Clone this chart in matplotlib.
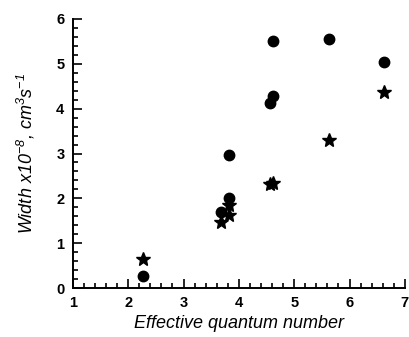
import matplotlib
matplotlib.use("Agg")
import matplotlib.pyplot as plt
from matplotlib.ticker import MultipleLocator

# circles
circle_x = [2.27, 3.67, 3.82, 3.82, 4.57, 4.62, 4.62, 5.63, 6.63]
circle_y = [0.28, 1.70, 2.01, 2.97, 4.12, 4.29, 5.50, 5.56, 5.05]
# stars
star_x = [2.27, 3.67, 3.82, 3.82, 4.57, 4.62, 5.63, 6.63]
star_y = [0.65, 1.48, 1.64, 1.85, 2.32, 2.35, 3.30, 4.37]

plt.rcParams["font.family"] = ["Liberation Sans", "DejaVu Sans"]
plt.rcParams["mathtext.fontset"] = "custom"
plt.rcParams["mathtext.it"] = "Liberation Sans:italic"
plt.rcParams["mathtext.rm"] = "Liberation Sans:italic"
plt.rcParams["mathtext.default"] = "it"

fig = plt.figure(figsize=(4.09, 3.37), dpi=100)
ax = fig.add_axes([0.178, 0.145, 0.812, 0.799])

ax.plot(circle_x, circle_y, "o", color="black", markersize=7.5, clip_on=False, zorder=3)
ax.plot(star_x, star_y, "*", color="black", markersize=10.5, clip_on=False, zorder=3)

ax.set_xlim(1, 7)
ax.set_ylim(0, 6)
ax.xaxis.set_major_locator(MultipleLocator(1))
ax.xaxis.set_minor_locator(MultipleLocator(0.2))
ax.yaxis.set_major_locator(MultipleLocator(1))
ax.yaxis.set_minor_locator(MultipleLocator(0.2))
ax.tick_params(which="both", direction="in", width=1.2, labelsize=10.5, pad=6)
ax.tick_params(which="major", length=6.5)
ax.tick_params(which="minor", length=3.5)
for lab in ax.get_xticklabels() + ax.get_yticklabels():
    lab.set_fontweight("bold")
for side in ["top", "right"]:
    ax.spines[side].set_visible(False)
for side in ["left", "bottom"]:
    ax.spines[side].set_linewidth(1.4)

ax.set_xlabel("Effective quantum number", fontsize=13, style="italic", labelpad=3)
ax.set_ylabel(r"Width x10$^{-8}$, cm$^{3}$s$^{-1}$", fontsize=13, style="italic", labelpad=14)

fig.savefig("out.png", dpi=100)
